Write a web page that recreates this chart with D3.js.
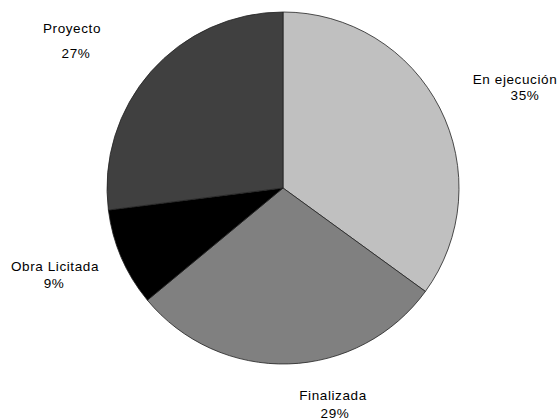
<!DOCTYPE html>
<html>
<head>
<meta charset="utf-8">
<script src="https://cdn.jsdelivr.net/npm/d3@7"></script>
<style>
  html, body { margin: 0; padding: 0; background: #fff; }
  svg { display: block; }
  .lbl { font-family: "Liberation Sans", Arial, sans-serif; font-size: 13.5px; letter-spacing: 0.6px; fill: #000; }
</style>
</head>
<body>
<svg width="559" height="420"></svg>
<script>
var width = 559,
    height = 420;

// data
var categories = ["En ejecución", "Finalizada", "Obra Licitada", "Proyecto"];
var shares = [35, 29, 9, 27];
var fills = ["#c0c0c0", "#808080", "#000000", "#404040"];

// where the two text lines of each label sit (name line, percent line)
var labelPos = [
  { nx: 515, ny: 84,  px: 525, py: 100 },
  { nx: 333, ny: 400, px: 335, py: 418 },
  { nx: 55,  ny: 271, px: 54,  py: 288 },
  { nx: 72,  ny: 33,  px: 76,  py: 58 }
];

var cx = 283, cy = 188, radius = 176;

var svg = d3.select("svg");

var pie = d3.pie()
  .sort(null)
  .value(function(d) { return d; });

var arc = d3.arc()
  .innerRadius(0)
  .outerRadius(radius);

var g = svg.append("g")
  .attr("transform", "translate(" + cx + "," + cy + ")");

g.selectAll("path")
  .data(pie(shares))
  .enter().append("path")
  .attr("d", arc)
  .attr("fill", function(d, i) { return fills[i]; })
  .attr("stroke", "#222")
  .attr("stroke-width", 0.8);

// labels
var labels = svg.append("g");
categories.forEach(function(name, i) {
  var p = labelPos[i];
  labels.append("text")
    .attr("class", "lbl")
    .attr("x", p.nx)
    .attr("y", p.ny)
    .attr("text-anchor", "middle")
    .text(name);
  labels.append("text")
    .attr("class", "lbl")
    .attr("x", p.px)
    .attr("y", p.py)
    .attr("text-anchor", "middle")
    .text(shares[i] + "%");
});
</script>
</body>
</html>
